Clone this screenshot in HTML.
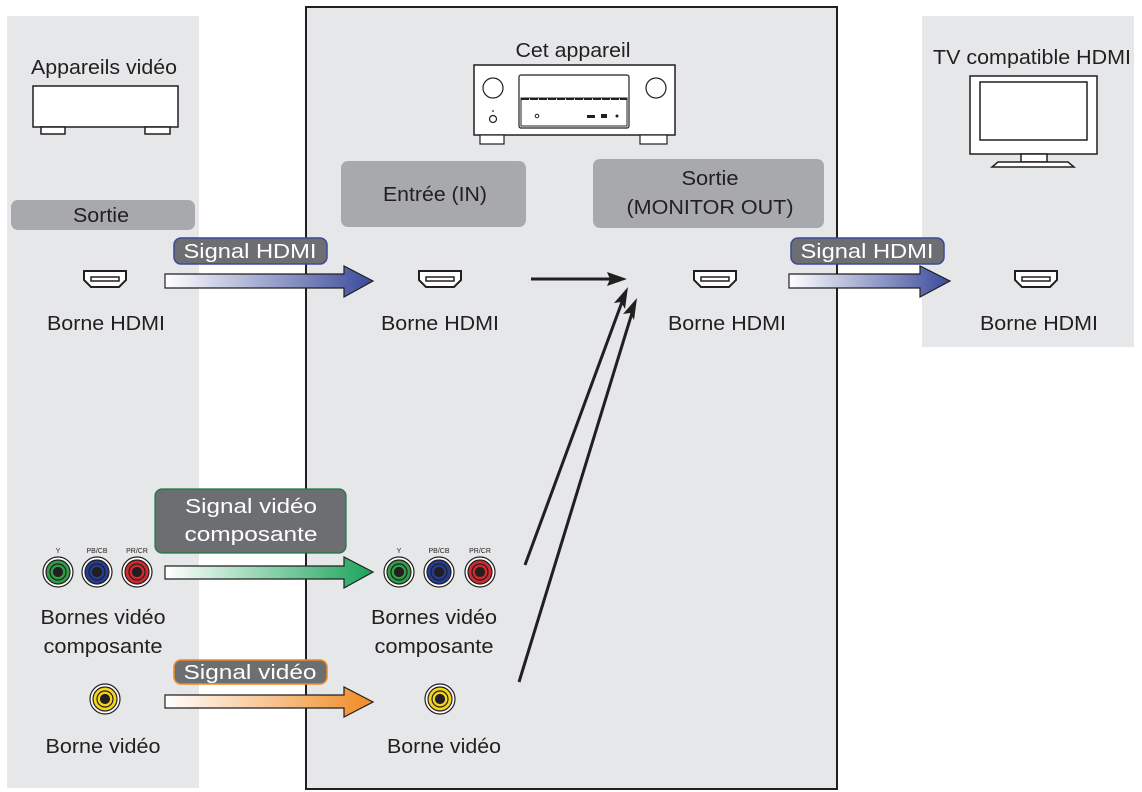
<!DOCTYPE html>
<html><head><meta charset="utf-8"><style>
html,body{margin:0;padding:0;background:#fff}
svg{display:block}
text{font-family:"Liberation Sans",sans-serif;fill:#231f20;font-size:20px}
.w{fill:#fff}
</style></head><body>
<svg width="1142" height="792" viewBox="0 0 1142 792" xmlns="http://www.w3.org/2000/svg">
<defs>
<linearGradient id="gb" x1="0" x2="1"><stop offset="0" stop-color="#fff"/><stop offset="1" stop-color="#3a4a9a"/></linearGradient>
<linearGradient id="gg" x1="0" x2="1"><stop offset="0" stop-color="#fff"/><stop offset="1" stop-color="#1aa55a"/></linearGradient>
<linearGradient id="go" x1="0" x2="1"><stop offset="0" stop-color="#fff"/><stop offset="1" stop-color="#f08a24"/></linearGradient>
<g id="hdmi"><path d="M-21,-8 H21 V1 L14,8 H-14 L-21,1 Z" fill="#fff" stroke="#231f20" stroke-width="2"/><path d="M-14,-2 H14 V2 H-14 Z" fill="none" stroke="#231f20" stroke-width="1.5"/></g>
</defs>
<!-- panels -->
<rect x="7" y="16" width="192" height="772" fill="#e6e7e8"/>
<rect x="922" y="16" width="212" height="331" fill="#e6e7e8"/>
<rect x="306" y="7" width="531" height="782" fill="#e6e7e8" stroke="#231f20" stroke-width="2"/>

<!-- left device -->
<text x="104" y="74" text-anchor="middle" textLength="146" lengthAdjust="spacingAndGlyphs">Appareils vidéo</text>
<rect x="33" y="86" width="145" height="41" fill="#fff" stroke="#231f20" stroke-width="1.5"/>
<rect x="41" y="127" width="24" height="7" fill="#fff" stroke="#231f20" stroke-width="1.5"/>
<rect x="145" y="127" width="25" height="7" fill="#fff" stroke="#231f20" stroke-width="1.5"/>
<rect x="11" y="200" width="184" height="30" rx="7" fill="#a7a9ac"/>
<text x="101" y="222" text-anchor="middle" textLength="56" lengthAdjust="spacingAndGlyphs">Sortie</text>

<!-- receiver -->
<text x="573" y="57" text-anchor="middle" textLength="115" lengthAdjust="spacingAndGlyphs">Cet appareil</text>
<rect x="474" y="65" width="201" height="70" fill="#fff" stroke="#231f20" stroke-width="1.5"/>
<rect x="519" y="75" width="110" height="53" rx="2" fill="#fff" stroke="#231f20" stroke-width="1.2"/>
<rect x="521" y="98" width="106" height="28" fill="#fff" stroke="#231f20" stroke-width="1"/>
<line x1="521" y1="99" x2="627" y2="99" stroke="#231f20" stroke-width="2" stroke-dasharray="8,1"/>
<circle cx="493" cy="88" r="10" fill="#fff" stroke="#231f20" stroke-width="1.2"/>
<circle cx="656" cy="88" r="10" fill="#fff" stroke="#231f20" stroke-width="1.2"/>
<circle cx="493" cy="119" r="3.5" fill="#fff" stroke="#231f20" stroke-width="1.2"/>
<circle cx="493" cy="111" r="0.9" fill="#231f20"/>
<circle cx="537" cy="116" r="1.8" fill="none" stroke="#231f20"/>
<rect x="587" y="115" width="8" height="3" fill="#231f20"/><rect x="601" y="114" width="6" height="4" fill="#231f20"/><circle cx="617" cy="116" r="1.5" fill="#231f20"/>
<rect x="480" y="135" width="24" height="9" fill="#fff" stroke="#231f20" stroke-width="1.2"/>
<rect x="640" y="135" width="27" height="9" fill="#fff" stroke="#231f20" stroke-width="1.2"/>

<rect x="341" y="161" width="185" height="66" rx="7" fill="#a7a9ac"/>
<text x="435" y="201" text-anchor="middle" textLength="104" lengthAdjust="spacingAndGlyphs">Entrée (IN)</text>
<rect x="593" y="159" width="231" height="69" rx="7" fill="#a7a9ac"/>
<text x="710" y="185" text-anchor="middle" textLength="57" lengthAdjust="spacingAndGlyphs">Sortie</text>
<text x="710" y="214" text-anchor="middle" textLength="167" lengthAdjust="spacingAndGlyphs">(MONITOR OUT)</text>

<!-- TV -->
<text x="1032" y="64" text-anchor="middle" textLength="198" lengthAdjust="spacingAndGlyphs">TV compatible HDMI</text>
<rect x="970" y="76" width="127" height="78" fill="#fff" stroke="#231f20" stroke-width="1.5"/>
<rect x="980" y="82" width="107" height="58" fill="#fff" stroke="#231f20" stroke-width="1.5"/>
<rect x="1021" y="154" width="26" height="8" fill="#fff" stroke="#231f20" stroke-width="1.5"/>
<path d="M998,162 H1068 L1074,167 H992 Z" fill="#fff" stroke="#231f20" stroke-width="1.5"/>

<!-- HDMI icons & labels -->
<use href="#hdmi" x="105" y="279"/>
<use href="#hdmi" x="440" y="279"/>
<use href="#hdmi" x="715" y="279"/>
<use href="#hdmi" x="1036" y="279"/>
<text x="106" y="330" text-anchor="middle" textLength="118" lengthAdjust="spacingAndGlyphs">Borne HDMI</text>
<text x="440" y="330" text-anchor="middle" textLength="118" lengthAdjust="spacingAndGlyphs">Borne HDMI</text>
<text x="727" y="330" text-anchor="middle" textLength="118" lengthAdjust="spacingAndGlyphs">Borne HDMI</text>
<text x="1039" y="330" text-anchor="middle" textLength="118" lengthAdjust="spacingAndGlyphs">Borne HDMI</text>

<!-- HDMI arrows -->
<path d="M165,274 H344 V266 L373,281 L344,297 V288 H165 Z" fill="url(#gb)" stroke="#231f20" stroke-width="1.2"/>
<rect x="174" y="238" width="153" height="26" rx="7" fill="#6d6e71" stroke="#3a4a9a" stroke-width="1.5"/>
<text class="w" x="250" y="258" text-anchor="middle" textLength="133" lengthAdjust="spacingAndGlyphs" style="fill:#fff">Signal HDMI</text>
<path d="M789,274 H920 V266 L950,281 L920,297 V288 H789 Z" fill="url(#gb)" stroke="#231f20" stroke-width="1.2"/>
<rect x="791" y="238" width="153" height="26" rx="7" fill="#6d6e71" stroke="#3a4a9a" stroke-width="1.5"/>
<text x="867" y="258" text-anchor="middle" textLength="133" lengthAdjust="spacingAndGlyphs" style="fill:#fff">Signal HDMI</text>

<!-- black arrows -->
<line x1="531" y1="279" x2="612" y2="279" stroke="#231f20" stroke-width="3"/>
<path d="M627,279 L607,272 L610,279 L607,286 Z" fill="#231f20"/>
<line x1="525" y1="565" x2="622" y2="302" stroke="#231f20" stroke-width="3"/>
<path d="M628,287 L614,303 L621,302 L625,309 Z" fill="#231f20"/>
<line x1="519" y1="682" x2="632" y2="313" stroke="#231f20" stroke-width="3"/>
<path d="M637,298 L623,314 L630,313 L634,320 Z" fill="#231f20"/>

<!-- component -->
<g font-size="7">
<text x="58" y="553" text-anchor="middle" style="font-size:7px">Y</text>
<text x="97" y="553" text-anchor="middle" style="font-size:7px">PB/CB</text>
<text x="137" y="553" text-anchor="middle" style="font-size:7px">PR/CR</text>
<text x="399" y="553" text-anchor="middle" style="font-size:7px">Y</text>
<text x="439" y="553" text-anchor="middle" style="font-size:7px">PB/CB</text>
<text x="480" y="553" text-anchor="middle" style="font-size:7px">PR/CR</text>
</g>
<g stroke="#231f20" stroke-width="1.2">
<circle cx="58" cy="572" r="15" fill="#fff"/><circle cx="58" cy="572" r="12" fill="#2e9e48"/><circle cx="58" cy="572" r="8" fill="#2e9e48"/><circle cx="58" cy="572" r="4.5" fill="#231f20"/>
<circle cx="97" cy="572" r="15" fill="#fff"/><circle cx="97" cy="572" r="12" fill="#233d94"/><circle cx="97" cy="572" r="8" fill="#233d94"/><circle cx="97" cy="572" r="4.5" fill="#231f20"/>
<circle cx="137" cy="572" r="15" fill="#fff"/><circle cx="137" cy="572" r="12" fill="#d02a2e"/><circle cx="137" cy="572" r="8" fill="#d02a2e"/><circle cx="137" cy="572" r="4.5" fill="#231f20"/>
<circle cx="399" cy="572" r="15" fill="#fff"/><circle cx="399" cy="572" r="12" fill="#2e9e48"/><circle cx="399" cy="572" r="8" fill="#2e9e48"/><circle cx="399" cy="572" r="4.5" fill="#231f20"/>
<circle cx="439" cy="572" r="15" fill="#fff"/><circle cx="439" cy="572" r="12" fill="#233d94"/><circle cx="439" cy="572" r="8" fill="#233d94"/><circle cx="439" cy="572" r="4.5" fill="#231f20"/>
<circle cx="480" cy="572" r="15" fill="#fff"/><circle cx="480" cy="572" r="12" fill="#d02a2e"/><circle cx="480" cy="572" r="8" fill="#d02a2e"/><circle cx="480" cy="572" r="4.5" fill="#231f20"/>
<circle cx="105" cy="699" r="15" fill="#fff"/><circle cx="105" cy="699" r="12" fill="#f2d51c"/><circle cx="105" cy="699" r="8" fill="#f2d51c"/><circle cx="105" cy="699" r="4.5" fill="#231f20"/>
<circle cx="440" cy="699" r="15" fill="#fff"/><circle cx="440" cy="699" r="12" fill="#f2d51c"/><circle cx="440" cy="699" r="8" fill="#f2d51c"/><circle cx="440" cy="699" r="4.5" fill="#231f20"/>
</g>
<path d="M165,566 H344 V557 L373,572 L344,588 V579 H165 Z" fill="url(#gg)" stroke="#231f20" stroke-width="1.2"/>
<rect x="155" y="489" width="191" height="64" rx="7" fill="#6d6e71" stroke="#1a7a44" stroke-width="1.2"/>
<text x="251" y="513" text-anchor="middle" textLength="132" lengthAdjust="spacingAndGlyphs" style="fill:#fff">Signal vidéo</text>
<text x="251" y="541" text-anchor="middle" textLength="133" lengthAdjust="spacingAndGlyphs" style="fill:#fff">composante</text>

<text x="103" y="624" text-anchor="middle" textLength="125" lengthAdjust="spacingAndGlyphs">Bornes vidéo</text>
<text x="103" y="653" text-anchor="middle" textLength="119" lengthAdjust="spacingAndGlyphs">composante</text>
<text x="434" y="624" text-anchor="middle" textLength="126" lengthAdjust="spacingAndGlyphs">Bornes vidéo</text>
<text x="434" y="653" text-anchor="middle" textLength="119" lengthAdjust="spacingAndGlyphs">composante</text>

<!-- composite -->
<path d="M165,695 H344 V687 L373,702 L344,717 V708 H165 Z" fill="url(#go)" stroke="#231f20" stroke-width="1.2"/>
<rect x="174" y="660" width="153" height="24" rx="7" fill="#6d6e71" stroke="#f08a24" stroke-width="1.5"/>
<text x="250" y="679" text-anchor="middle" textLength="133" lengthAdjust="spacingAndGlyphs" style="fill:#fff">Signal vidéo</text>
<text x="103" y="753" text-anchor="middle" textLength="115" lengthAdjust="spacingAndGlyphs">Borne vidéo</text>
<text x="444" y="753" text-anchor="middle" textLength="114" lengthAdjust="spacingAndGlyphs">Borne vidéo</text>
</svg>
</body></html>
